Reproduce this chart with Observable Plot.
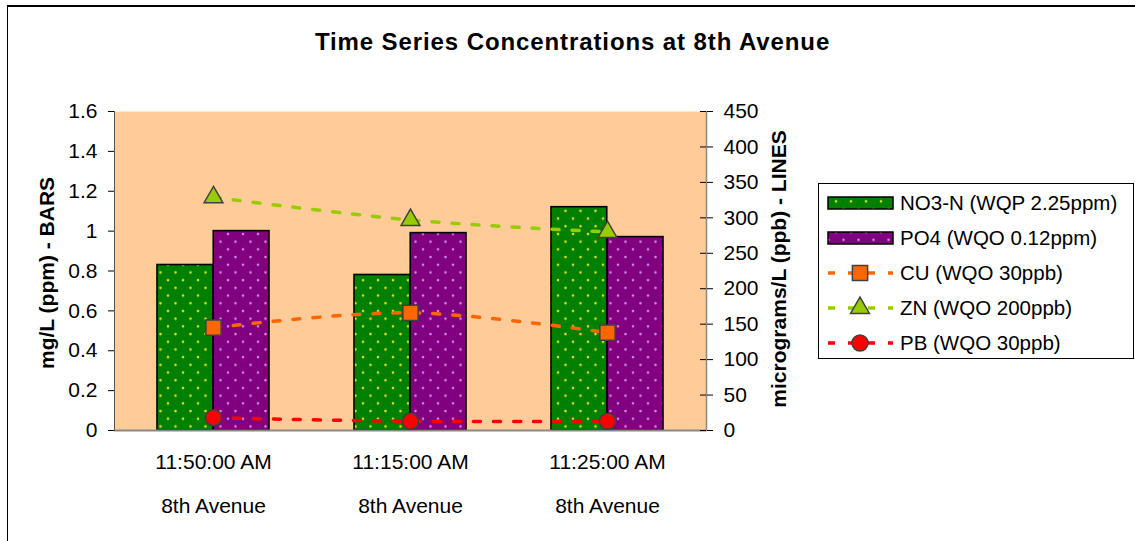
<!DOCTYPE html>
<html>
<head>
<meta charset="utf-8">
<script src="https://cdn.jsdelivr.net/npm/d3@7"></script>
<script src="https://cdn.jsdelivr.net/npm/@observablehq/plot@0.6"></script>
<style>
  html, body { margin: 0; padding: 0; background: #fff; }
  #wrap { position: relative; width: 1135px; height: 541px; overflow: hidden; font-family: "Liberation Sans", Arial, sans-serif; }
  #border { position: absolute; left: 7px; top: 5px; width: 1200px; height: 600px; border-left: 1.5px solid #000; border-top: 2px solid #000; box-sizing: border-box; }
  #title { position: absolute; left: 0; width: 1145px; top: 27px; text-align: center; font-weight: bold; font-size: 24px; letter-spacing: 0.9px; color: #000; line-height: 30px; }
  #chart { position: absolute; left: 0; top: 0; }
  #legend { position: absolute; left: 818px; top: 183px; }
</style>
</head>
<body>
<div id="wrap">
  <div id="border"></div>
  <div id="chart"></div>
  <div id="title">Time Series Concentrations at 8th Avenue</div>
  <div id="legend"></div>
</div>
<script>
// ---- data ----
const times = ["11:50:00 AM", "11:15:00 AM", "11:25:00 AM"];
const sites = ["8th Avenue", "8th Avenue", "8th Avenue"];
const no3n = [0.83, 0.78, 1.12];   // mg/L
const po4 = [1.0, 0.99, 0.97];     // mg/L
const cu = [145, 166, 138];        // ppb
const zn = [329, 297, 280];        // ppb
const pb = [18, 13, 13];           // ppb
const leftTicks = [0, 0.2, 0.4, 0.6, 0.8, 1, 1.2, 1.4, 1.6];
const rightTicks = [0, 50, 100, 150, 200, 250, 300, 350, 400, 450];
const barSeries = ["NO3-N (WQP 2.25ppm)", "PO4 (WQO 0.12ppm)"];
const lineSeries = ["CU (WQO 30ppb)", "ZN (WQO 200ppb)", "PB (WQO 30ppb)"];
const leftTitle = "mg/L (ppm) - BARS";
const rightTitle = "micrograms/L (ppb) - LINES";

const leftMax = 1.6, rightMax = 450;
const toLeft = v => v * leftMax / rightMax;

const W = 1135, H = 541;
const mL = 114, mR = 429, mT = 111, mB = 111;
const step = (W - mL - mR) / times.length;
const padIn = 0.43, padOut = padIn / 2;
const bw = step * (1 - padIn);
const FS = 21;

const bars = times.map((t, i) => ({t, site: sites[i], no3: no3n[i], po4: po4[i]}));
const lines = [
  {name: lineSeries[0], vals: cu, color: "#FF6600", symbol: "square", r: 8.6},
  {name: lineSeries[1], vals: zn, color: "#99CC00", symbol: "triangle", r: 7},
  {name: lineSeries[2], vals: pb, color: "#FF0000", symbol: "circle", r: 8}
];

const marks = [
  Plot.frame({fill: "#FFCC99", stroke: null}),
  Plot.barY(bars, {x: "t", y: "no3", fill: "url(#dotGreen)", stroke: "#000", strokeWidth: 1.6, insetRight: bw / 2}),
  Plot.barY(bars, {x: "t", y: "po4", fill: "url(#dotPurple)", stroke: "#000", strokeWidth: 1.6, insetLeft: bw / 2}),
  Plot.ruleY([0], {stroke: "#888", strokeWidth: 2}),
  Plot.frame({anchor: "left", stroke: "#555", strokeWidth: 1}),
  Plot.frame({anchor: "right", stroke: "#888", strokeWidth: 1.5})
];

for (const s of lines) {
  const d = times.map((t, i) => ({t, v: toLeft(s.vals[i])}));
  marks.push(Plot.line(d, {x: "t", y: "v", stroke: s.color, strokeWidth: 3.5, strokeDasharray: "7,13", curve: "catmull-rom"}));
}
for (const s of lines) {
  const d = times.map((t, i) => ({t, v: toLeft(s.vals[i])}));
  marks.push(Plot.dot(d, {x: "t", y: "v", fill: s.color, stroke: "#404040", strokeWidth: 1.5, symbol: s.symbol, r: s.r}));
}

marks.push(
  Plot.axisY(leftTicks, {anchor: "left", tickSize: 6, tickPadding: 11, fontSize: FS, tickFormat: d => String(+d.toFixed(1)), label: null, stroke: "#000"}),
  Plot.axisY(rightTicks.map(toLeft), {anchor: "right", tickSize: 6, tickPadding: 11, fontSize: FS, tickFormat: d => String(Math.round(d * rightMax / leftMax)), label: null, stroke: "#000"}),
  Plot.ruleY(rightTicks.map(toLeft), {stroke: "#000", strokeWidth: 1, insetLeft: (W - mL - mR) - 6}),
  Plot.text(bars, {x: "t", text: "t", frameAnchor: "bottom", lineAnchor: "middle", dy: 32, fontSize: FS, fill: "#000"}),
  Plot.text(bars, {x: "t", text: "site", frameAnchor: "bottom", lineAnchor: "middle", dy: 76, fontSize: FS, fill: "#000"}),
  Plot.text([leftTitle], {frameAnchor: "left", text: d => d, textAnchor: "middle", lineAnchor: "middle", rotate: -90, dx: -67, dy: 2, fontSize: 21, fontWeight: "bold", fill: "#000", letterSpacing: 0.3}),
  Plot.text([rightTitle], {frameAnchor: "right", text: d => d, textAnchor: "middle", lineAnchor: "middle", rotate: -90, dx: 73, dy: -2, fontSize: 21, fontWeight: "bold", fill: "#000", letterSpacing: 0.4})
);

const chart = Plot.plot({
  width: W, height: H,
  marginLeft: mL, marginRight: mR, marginTop: mT, marginBottom: mB,
  style: {fontFamily: "'Liberation Sans', Arial, sans-serif", fontSize: FS + "px", color: "#000", background: "transparent", overflow: "visible"},
  x: {domain: times, paddingInner: padIn, paddingOuter: padOut, axis: null},
  y: {domain: [0, leftMax], axis: null},
  marks
});

const defsHTML = `
<pattern id="dotGreen" patternUnits="userSpaceOnUse" width="15" height="15.4">
  <rect width="15" height="15.4" fill="#008000"/>
  <circle cx="3" cy="3" r="1.3" fill="#DDDD22"/>
  <circle cx="10.5" cy="10.7" r="1.3" fill="#DDDD22"/>
</pattern>
<pattern id="dotPurple" patternUnits="userSpaceOnUse" width="15" height="15.4">
  <rect width="15" height="15.4" fill="#800080"/>
  <circle cx="3" cy="3" r="1.3" fill="#CC88DD"/>
  <circle cx="10.5" cy="10.7" r="1.3" fill="#CC88DD"/>
</pattern>`;
const defs = document.createElementNS("http://www.w3.org/2000/svg", "defs");
defs.innerHTML = defsHTML;
chart.insertBefore(defs, chart.firstChild);
document.getElementById("chart").appendChild(chart);

// ---- legend ----
const lg = d3.select("#legend").append("svg").attr("width", 316).attr("height", 176)
  .style("font-family", "'Liberation Sans', Arial, sans-serif");
lg.append("rect").attr("x", 0.5).attr("y", 0.5).attr("width", 315).attr("height", 175).attr("fill", "#fff").attr("stroke", "#000").attr("stroke-width", 1);
const rowY = [20, 55, 90, 125, 160];
const ldefs = lg.append("defs");
ldefs.html(defsHTML.replace(/dotGreen/, "lgGreen").replace(/dotPurple/, "lgPurple"));
const barFills = ["url(#lgGreen)", "url(#lgPurple)"];
const LFS = 20.5;
barSeries.forEach((name, i) => {
  lg.append("rect").attr("x", 10).attr("y", rowY[i] - 6).attr("width", 65).attr("height", 12)
    .attr("fill", barFills[i]).attr("stroke", "#000").attr("stroke-width", 1.5);
  lg.append("text").attr("x", 82).attr("y", rowY[i]).attr("dy", "0.35em").attr("font-size", LFS).text(name);
});
const symMap = {square: d3.symbolSquare, triangle: d3.symbolTriangle, circle: d3.symbolCircle};
lines.forEach((s, j) => {
  const y = rowY[j + 2];
  lg.append("line").attr("x1", 10).attr("x2", 75).attr("y1", y).attr("y2", y)
    .attr("stroke", s.color).attr("stroke-width", 3.5).attr("stroke-dasharray", "7,13");
  lg.append("path").attr("transform", `translate(42,${y})`)
    .attr("d", d3.symbol(symMap[s.symbol], Math.PI * s.r * s.r)())
    .attr("fill", s.color).attr("stroke", "#404040").attr("stroke-width", 1.5);
  lg.append("text").attr("x", 82).attr("y", y).attr("dy", "0.35em").attr("font-size", LFS).text(s.name);
});
</script>
</body>
</html>
